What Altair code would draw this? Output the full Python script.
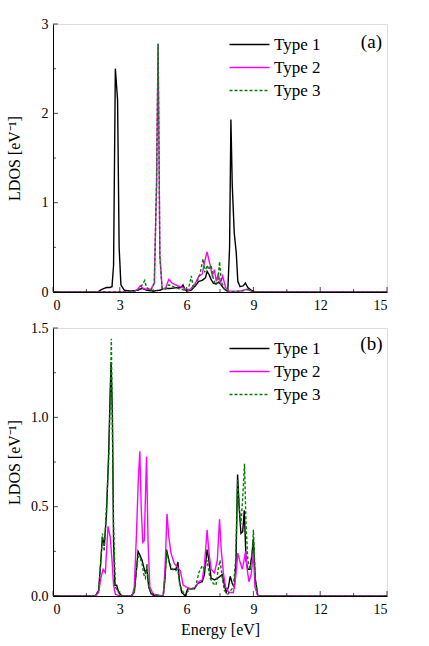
import altair as alt
import pandas as pd

# ---------------- data ----------------
series_names = ["Type 1", "Type 2", "Type 3"]
series_colors = ["#000000", "#ff00ff", "#008000"]

x_ticks = [0, 3, 6, 9, 12, 15]
x_minor = [1.5, 4.5, 7.5, 10.5, 13.5]
ya_ticks = [0, 1, 2, 3]
ya_minor = [0.5, 1.5, 2.5]
yb_ticks = [0.0, 0.5, 1.0, 1.5]
yb_minor = [0.25, 0.75, 1.25]

# panel (a)
a1_x = [0, 2.0, 2.2, 2.4, 2.55, 2.65, 2.72, 2.8, 2.9, 2.97, 3.05, 3.2, 3.5, 3.8, 4.0, 4.2, 4.5, 4.8,
        5.0, 5.3, 5.6, 5.75, 5.84, 5.92, 6.0, 6.2, 6.4, 6.55, 6.7, 6.85, 6.92, 7.0, 7.1, 7.2, 7.3,
        7.44, 7.55, 7.7, 7.85, 7.93, 7.99, 8.05, 8.14, 8.23, 8.3, 8.4, 8.55, 8.64, 8.75, 8.9, 9.1, 15]
a1_y = [0, 0, 0.03, 0.05, 0.05, 0.06, 0.3, 2.5, 2.15, 0.5, 0.08, 0.02, 0.01, 0.02, 0.04, 0.02, 0.01, 0.02,
        0.04, 0.04, 0.05, 0.05, 0.08, 0.03, 0.01, 0.02, 0.07, 0.12, 0.13, 0.16, 0.23, 0.2, 0.14, 0.1, 0.09,
        0.11, 0.08, 0.03, 0.01, 0.5, 1.93, 1.2, 0.66, 0.44, 0.12, 0.06, 0.07, 0.1, 0.05, 0.02, 0, 0]

a2_x = [0, 3.6, 3.8, 3.92, 4.05, 4.2, 4.4, 4.55, 4.65, 4.72, 4.8, 4.9, 5.05, 5.2, 5.35, 5.5, 5.7, 5.9,
        6.05, 6.2, 6.4, 6.55, 6.7, 6.84, 6.92, 7.0, 7.08, 7.15, 7.25, 7.33, 7.42, 7.52, 7.62, 7.75, 7.9,
        8.4, 8.7, 9.0, 15]
a2_y = [0, 0, 0.03, 0.07, 0.04, 0.03, 0.03, 0.1, 1.2, 2.78, 0.4, 0.04, 0.04, 0.14, 0.1, 0.08, 0.06, 0.04,
        0.01, 0.04, 0.1, 0.18, 0.2, 0.37, 0.45, 0.36, 0.28, 0.18, 0.25, 0.12, 0.2, 0.1, 0.18, 0.05, 0.01,
        0.01, 0.03, 0, 0]

a3_x = [0, 3.7, 3.9, 4.05, 4.12, 4.2, 4.4, 4.55, 4.65, 4.72, 4.8, 4.9, 5.05, 5.2, 5.5, 5.9, 6.05, 6.15,
        6.21, 6.3, 6.45, 6.6, 6.74, 6.82, 6.92, 7.0, 7.1, 7.2, 7.3, 7.4, 7.48, 7.56, 7.7, 7.9, 8.5, 8.75,
        9.0, 15]
a3_y = [0, 0, 0.04, 0.1, 0.13, 0.05, 0.02, 0.1, 1.2, 2.78, 0.4, 0.04, 0.03, 0.08, 0.05, 0.02, 0.02, 0.1,
        0.18, 0.05, 0.1, 0.2, 0.37, 0.22, 0.3, 0.25, 0.3, 0.15, 0.08, 0.1, 0.34, 0.12, 0.03, 0.0, 0.01, 0.03,
        0, 0]

# panel (b)
b1_x = [0, 1.9, 2.05, 2.15, 2.22, 2.3, 2.4, 2.5, 2.56, 2.61, 2.67, 2.72, 2.78, 2.86, 2.95, 3.1, 3.5,
        3.65, 3.75, 3.82, 3.9, 4.0, 4.08, 4.15, 4.22, 4.3, 4.42, 4.6, 4.95, 5.03, 5.1, 5.2, 5.3, 5.42,
        5.52, 5.61, 5.68, 5.78, 5.94, 6.05, 6.2, 6.35, 6.5, 6.7, 6.8, 6.92, 7.0, 7.1, 7.25, 7.4, 7.6,
        7.7, 7.78, 7.88, 7.96, 8.05, 8.15, 8.22, 8.29, 8.36, 8.44, 8.52, 8.59, 8.67, 8.75, 8.85, 8.95,
        9.0, 9.08, 9.2, 15]
b1_y = [0, 0, 0.03, 0.2, 0.33, 0.28, 0.45, 0.8, 1.1, 1.31, 1.0, 0.3, 0.06, 0.06, 0.02, 0.0, 0.0,
        0.02, 0.15, 0.25, 0.23, 0.2, 0.16, 0.13, 0.15, 0.05, 0.01, 0.0, 0.0, 0.1, 0.26, 0.2, 0.15, 0.15,
        0.15, 0.19, 0.08, 0.02, 0.0, 0.04, 0.04, 0.04, 0.07, 0.08, 0.12, 0.26, 0.2, 0.1, 0.09, 0.1, 0.12,
        0.06, 0.02, 0.05, 0.11, 0.07, 0.05, 0.2, 0.68, 0.5, 0.35, 0.36, 0.48, 0.2, 0.15, 0.15, 0.25,
        0.32, 0.1, 0.0, 0]

b2_x = [0, 1.9, 2.05, 2.15, 2.25, 2.35, 2.47, 2.57, 2.65, 2.72, 2.8, 3.0, 3.55, 3.65, 3.75, 3.83, 3.9,
        3.96, 4.03, 4.1, 4.15, 4.2, 4.27, 4.35, 4.5, 4.95, 5.03, 5.12, 5.2, 5.3, 5.45, 5.6, 5.72, 5.85,
        6.0, 6.2, 6.4, 6.55, 6.7, 6.8, 6.92, 7.0, 7.1, 7.25, 7.38, 7.48, 7.56, 7.65, 7.75, 7.9, 8.1, 8.2,
        8.3, 8.38, 8.5, 8.58, 8.65, 8.72, 8.8, 8.9, 9.0, 9.07, 9.2, 15]
b2_y = [0, 0, 0.02, 0.1, 0.15, 0.13, 0.39, 0.33, 0.2, 0.06, 0.01, 0.0, 0.0, 0.05, 0.35, 0.65, 0.81,
        0.5, 0.3, 0.31, 0.55, 0.78, 0.3, 0.05, 0.01, 0.0, 0.15, 0.46, 0.33, 0.24, 0.18, 0.16, 0.14, 0.06,
        0.05, 0.04, 0.05, 0.08, 0.09, 0.17, 0.37, 0.25, 0.15, 0.13, 0.2, 0.43, 0.25, 0.13, 0.05, 0.02, 0.02, 0.1,
        0.24, 0.2, 0.15, 0.2, 0.25, 0.15, 0.08, 0.12, 0.24, 0.05, 0.0, 0]

b3_x = [0, 1.9, 2.05, 2.15, 2.22, 2.3, 2.4, 2.5, 2.57, 2.62, 2.67, 2.72, 2.8, 2.95, 3.1, 3.55, 3.65,
        3.75, 3.82, 3.9, 4.0, 4.08, 4.15, 4.22, 4.3, 4.42, 4.95, 5.03, 5.1, 5.2, 5.35, 5.5, 5.6, 5.7,
        5.85, 6.0, 6.2, 6.4, 6.55, 6.7, 6.8, 6.92, 7.05, 7.2, 7.32, 7.42, 7.5, 7.6, 7.7, 7.85, 8.1, 8.2,
        8.29, 8.36, 8.44, 8.52, 8.6, 8.67, 8.75, 8.85, 8.95, 9.0, 9.08, 9.2, 15]
b3_y = [0, 0, 0.03, 0.2, 0.35, 0.25, 0.5, 0.75, 1.1, 1.44, 0.9, 0.4, 0.05, 0.02, 0.0, 0.0, 0.02,
        0.15, 0.22, 0.22, 0.18, 0.12, 0.1, 0.18, 0.05, 0.01, 0.0, 0.1, 0.25, 0.2, 0.15, 0.14, 0.15, 0.06,
        0.02, 0.02, 0.04, 0.05, 0.13, 0.17, 0.15, 0.2, 0.1, 0.07, 0.06, 0.15, 0.2, 0.1, 0.03, 0.01, 0.05, 0.2,
        0.65, 0.5, 0.4, 0.55, 0.74, 0.4, 0.2, 0.15, 0.25, 0.37, 0.1, 0.0, 0]

FONT = "'Liberation Serif', 'Times New Roman', serif"
W, H = 334, 268


def frame(xs_list, ys_list):
    parts = []
    for name, xs, ys in zip(series_names, xs_list, ys_list):
        parts.append(pd.DataFrame({"energy": xs, "ldos": ys, "series": name, "order": range(len(xs))}))
    return pd.concat(parts, ignore_index=True)


def legend():
    return alt.Legend(title=None, orient="none", legendX=188, legendY=12,
                      symbolType="M-4,0H4", symbolSize=100, symbolStrokeWidth=1.5,
                      labelFont=FONT, labelFontSize=17, labelColor="black",
                      labelOffset=16, rowPadding=5)


def panel(df, ymax, yvals, yminor, yfmt, tag, tag_y, xtitle):
    xs = alt.Scale(domain=[0, 15], nice=False, zero=False)
    ys = alt.Scale(domain=[0, ymax], nice=False)
    xaxis = alt.Axis(values=x_ticks, tickSize=0, labelPadding=6, grid=False, domainColor="black",
                     title=xtitle, titlePadding=5, labelFontSize=14, labelColor="black",
                     labelFont=FONT, titleFontSize=16, titleFont=FONT, titleFontWeight="normal",
                     titleColor="black")
    yaxis = alt.Axis(values=yvals, format=yfmt, tickSize=0, labelPadding=5, grid=False,
                     domainColor="black", title="LDOS [eV⁻¹]", titleX=-31, titleY=H / 2,
                     labelFontSize=14, labelColor="black", labelFont=FONT, titleFontSize=16,
                     titleFont=FONT, titleFontWeight="normal", titleColor="black")
    lines = alt.Chart(df).mark_line(strokeWidth=1.4, clip=True).encode(
        x=alt.X("energy:Q", scale=xs, axis=xaxis),
        y=alt.Y("ldos:Q", scale=ys, axis=yaxis),
        color=alt.Color("series:N",
                        scale=alt.Scale(domain=series_names, range=series_colors),
                        legend=legend()),
        strokeDash=alt.StrokeDash("series:N",
                                  scale=alt.Scale(domain=series_names, range=[[1, 0], [1, 0], [3, 2]]),
                                  legend=legend()),
        order="order:Q",
    )
    xt_major = alt.Chart(pd.DataFrame({"v": x_ticks})).mark_tick(
        orient="vertical", size=5, yOffset=-2.5, color="black", thickness=1).encode(
        x=alt.X("v:Q", scale=xs), y=alt.datum(0, scale=ys))
    xt_minor = alt.Chart(pd.DataFrame({"v": x_minor})).mark_tick(
        orient="vertical", size=3, yOffset=-1.5, color="black", thickness=1).encode(
        x=alt.X("v:Q", scale=xs), y=alt.datum(0, scale=ys))
    yt_major = alt.Chart(pd.DataFrame({"v": yvals})).mark_tick(
        orient="horizontal", size=5, xOffset=2.5, color="black", thickness=1).encode(
        y=alt.Y("v:Q", scale=ys), x=alt.datum(0, scale=xs))
    yt_minor = alt.Chart(pd.DataFrame({"v": yminor})).mark_tick(
        orient="horizontal", size=3, xOffset=1.5, color="black", thickness=1).encode(
        y=alt.Y("v:Q", scale=ys), x=alt.datum(0, scale=xs))
    label = alt.Chart(pd.DataFrame({"t": [tag]})).mark_text(
        font=FONT, fontSize=19, color="black", align="center", baseline="middle").encode(
        x=alt.datum(14.3, scale=xs), y=alt.datum(tag_y, scale=ys), text="t:N")
    return alt.layer(lines, xt_major, xt_minor, yt_major, yt_minor, label).properties(width=W, height=H)


pa = panel(frame([a1_x, a2_x, a3_x], [a1_y, a2_y, a3_y]), 3, ya_ticks, ya_minor, "d", "(a)", 2.8, "")
pb = panel(frame([b1_x, b2_x, b3_x], [b1_y, b2_y, b3_y]), 1.5, yb_ticks, yb_minor, ".1f", "(b)", 1.41,
           "Energy [eV]")

chart = alt.vconcat(pa, pb, spacing=7).resolve_scale(
    color="independent", strokeDash="independent", x="independent", y="independent"
).configure_view(stroke="black", strokeWidth=1).configure(
    font=FONT, background="white", padding={"left": 5, "top": 16, "right": 5, "bottom": 5}
).configure_axis(labelFont=FONT, domainWidth=1)

chart.save("out.html", embed_options={"renderer": "svg", "actions": False})
